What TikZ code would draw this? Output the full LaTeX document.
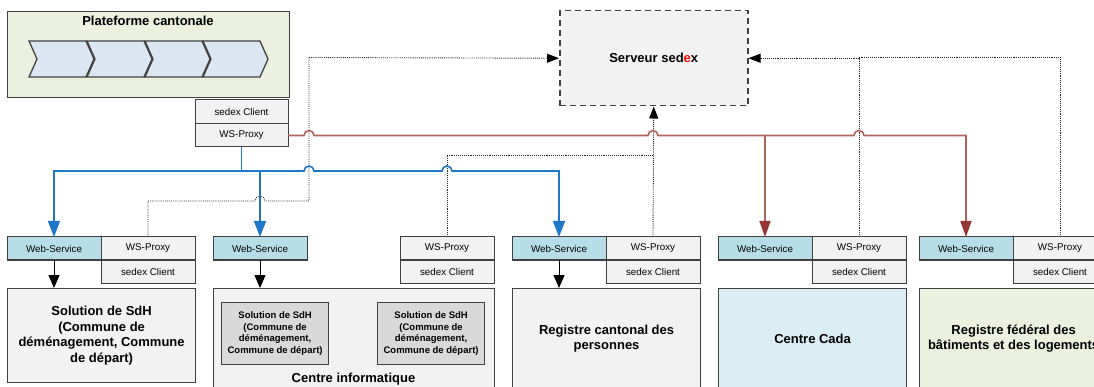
\documentclass[tikz,border=0pt]{standalone}
\usepackage{fontspec}
\setmainfont{Liberation Sans}
\usepackage{color}
\usepackage{tikz}
\usetikzlibrary{arrows.meta,
  positioning}

\definecolor{boxline}{HTML}{404040}
\definecolor{paleGray}{HTML}{F2F2F2}
\definecolor{subGray}{HTML}{D9D9D9}
\definecolor{wsBlue}{HTML}{B7DEE8}
\definecolor{cadaBlue}{HTML}{DAEEF3}
\definecolor{paleGreen}{HTML}{EBF1DE}
\definecolor{chevBlue}{HTML}{DCE6F2}
\definecolor{wireBlue}{HTML}{1F77C9}
\definecolor{wireRed}{HTML}{B3625B}
\definecolor{tipRed}{HTML}{953734}

\begin{document}
\begin{tikzpicture}[x=1pt, y=-1pt]
    \useasboundingbox (0,0) rectangle (1094,387);
    % Define styles for nodes and arrows
    \tikzstyle{cell} = [rectangle, draw=boxline, line width=1pt, fill=paleGray, minimum width=94pt, minimum height=23pt, inner sep=0pt, outer sep=0pt, text centered, font=\fontsize{9.8}{11}\selectfont]
    \tikzstyle{websvc} = [cell, fill=wsBlue]
    \tikzstyle{system} = [rectangle, draw=boxline, line width=1.2pt, fill=paleGray, minimum width=188pt, minimum height=100pt, anchor=north west, align=center, font=\fontsize{13}{15.7}\selectfont\bfseries]
    \tikzstyle{subsystem} = [rectangle, draw=boxline, line width=1.2pt, fill=subGray, minimum width=107pt, minimum height=62pt, anchor=north west, align=center, font=\fontsize{9.5}{11.8}\selectfont\bfseries]
    \tikzstyle{title} = [font=\fontsize{13}{15.7}\selectfont\bfseries]
    \tikzstyle{chevron} = [draw=boxline, line width=1.3pt, fill=chevBlue, line join=miter]
    % Wires: blue and red calls, dotted sedex links
    \tikzstyle{bluewire} = [line width=1.6pt, draw=wireBlue]
    \tikzstyle{bluearrow} = [bluewire, -{Triangle[length=16pt, width=12pt, color=wireBlue]}]
    \tikzstyle{redarrow} = [line width=1.6pt, draw=wireRed, -{Triangle[length=16pt, width=11pt, color=tipRed]}]
    \tikzstyle{sedexlink} = [densely dotted, line width=0.9pt, draw=black!85]
    \tikzstyle{sedexarrow} = [sedexlink, -{Triangle[length=12pt, width=9pt, color=black]}]
    \tikzstyle{feed} = [line width=1pt, draw=black, -{Triangle[length=13pt, width=11pt]}]

    % Plateforme cantonale
    \node (platform) [rectangle, draw=boxline, line width=1.2pt, fill=paleGreen, minimum width=282pt, minimum height=86pt, anchor=north west] at (7,11) {};
    \node (platformtitle) [title] at (148,21) {Plateforme cantonale};
    \foreach \i in {0,...,3}
      \draw [chevron] ({29+58*\i},41) -- ++(57,0) -- ++(8,18) -- ++(-8,18) -- ++(-57,0) -- ++(8,-18) -- cycle;
    \node (pclient) [cell, minimum width=93pt, minimum height=24pt, anchor=north west] at (195,100) {sedex Client};
    \node (pproxy) [cell, minimum width=93pt, below=0pt of pclient] {WS-Proxy};

    % Serveur sedex
    \node (server) [rectangle, draw=boxline, line width=1.5pt, dash pattern=on 6pt off 4pt, fill=paleGray, minimum width=188pt, minimum height=95pt, anchor=north west, title] at (559,10) {Serveur sed\textcolor{red}{e}x};

    % Nodes
    \node (ws1) [websvc, anchor=north west] at (7,237) {Web-Service};
    \node (proxy1) [cell, right=0pt of ws1] {WS-Proxy};
    \node (client1) [cell, below=0pt of proxy1] {sedex Client};
    \node (sys1) [system, minimum height=94pt] at (7,288) {Solution de SdH\\(Commune de\\déménagement, Commune\\de départ)};

    \node (ws2) [websvc, anchor=north west] at (213,237) {Web-Service};
    \node (proxy2) [cell, anchor=north west] at (400,237) {WS-Proxy};
    \node (client2) [cell, below=0pt of proxy2] {sedex Client};
    \node (sys2) [system, minimum width=281pt] at (213,288) {};
    \node (sub1) [subsystem] at (221,302) {Solution de SdH\\(Commune de\\déménagement,\\Commune de départ)};
    \node (sub2) [subsystem] at (377,302) {Solution de SdH\\(Commune de\\déménagement,\\Commune de départ)};
    \node (sys2title) [title] at (353.5,379) {Centre informatique};

    \node (ws3) [websvc, anchor=north west] at (512,237) {Web-Service};
    \node (proxy3) [cell, right=0pt of ws3] {WS-Proxy};
    \node (client3) [cell, below=0pt of proxy3] {sedex Client};
    \node (sys3) [system] at (512,288) {Registre cantonal des\\personnes};

    \node (ws4) [websvc, anchor=north west] at (718,237) {Web-Service};
    \node (proxy4) [cell, right=0pt of ws4] {WS-Proxy};
    \node (client4) [cell, below=0pt of proxy4] {sedex Client};
    \node (sys4) [system, fill=cadaBlue] at (718,288) {Centre Cada};

    \node (ws5) [websvc, anchor=north west] at (919,237) {Web-Service};
    \node (proxy5) [cell, right=0pt of ws5] {WS-Proxy};
    \node (client5) [cell, below=0pt of proxy5] {sedex Client};
    \node (sys5) [system, fill=paleGreen] at (919,288) {Registre fédéral des\\bâtiments et des logements};

    % sedex links (dotted)
    \coordinate (cijoin) at (653,155);
    \coordinate (cadajoin) at (859,57.5);
    \draw [sedexarrow] (proxy1.north) |- (255,201) arc[start angle=180, end angle=0, radius=5pt] -- (309,201) -- (309,57.5) -- (server.west);
    \draw [sedexlink] (proxy2.north) |- (cijoin);
    \draw [sedexarrow] (proxy3.north) -- (server.south);
    \draw [sedexarrow] (proxy4.north) |- (server.east);
    \draw [sedexlink] (proxy5.north) |- (cadajoin);

    % Arrows (connections)
    \coordinate (bluebus) at (241.5,171);
    \draw [bluewire] (pproxy.south) -- (bluebus);
    \draw [bluearrow] (bluebus) -| (ws1.north);
    \draw [bluearrow] (bluebus) -| (ws2.north);
    \draw [bluearrow] (bluebus) -- (304,171) arc[start angle=180, end angle=0, radius=5pt] -- (442,171) arc[start angle=180, end angle=0, radius=5pt] -| (ws3.north);
    \draw [redarrow] (pproxy.east) -- (304,135.5) arc[start angle=180, end angle=0, radius=5pt] -- (648,135.5) arc[start angle=180, end angle=0, radius=5pt] -| (ws4.north);
    \draw [redarrow] (ws4.north |- pproxy.east) -- (854,135.5) arc[start angle=180, end angle=0, radius=5pt] -| (ws5.north);
    \draw [feed] (ws1.south) -- (ws1.south |- sys1.north);
    \draw [feed] (ws2.south) -- (ws2.south |- sys2.north);
    \draw [feed] (ws3.south) -- (ws3.south |- sys3.north);
\end{tikzpicture}
\end{document}
